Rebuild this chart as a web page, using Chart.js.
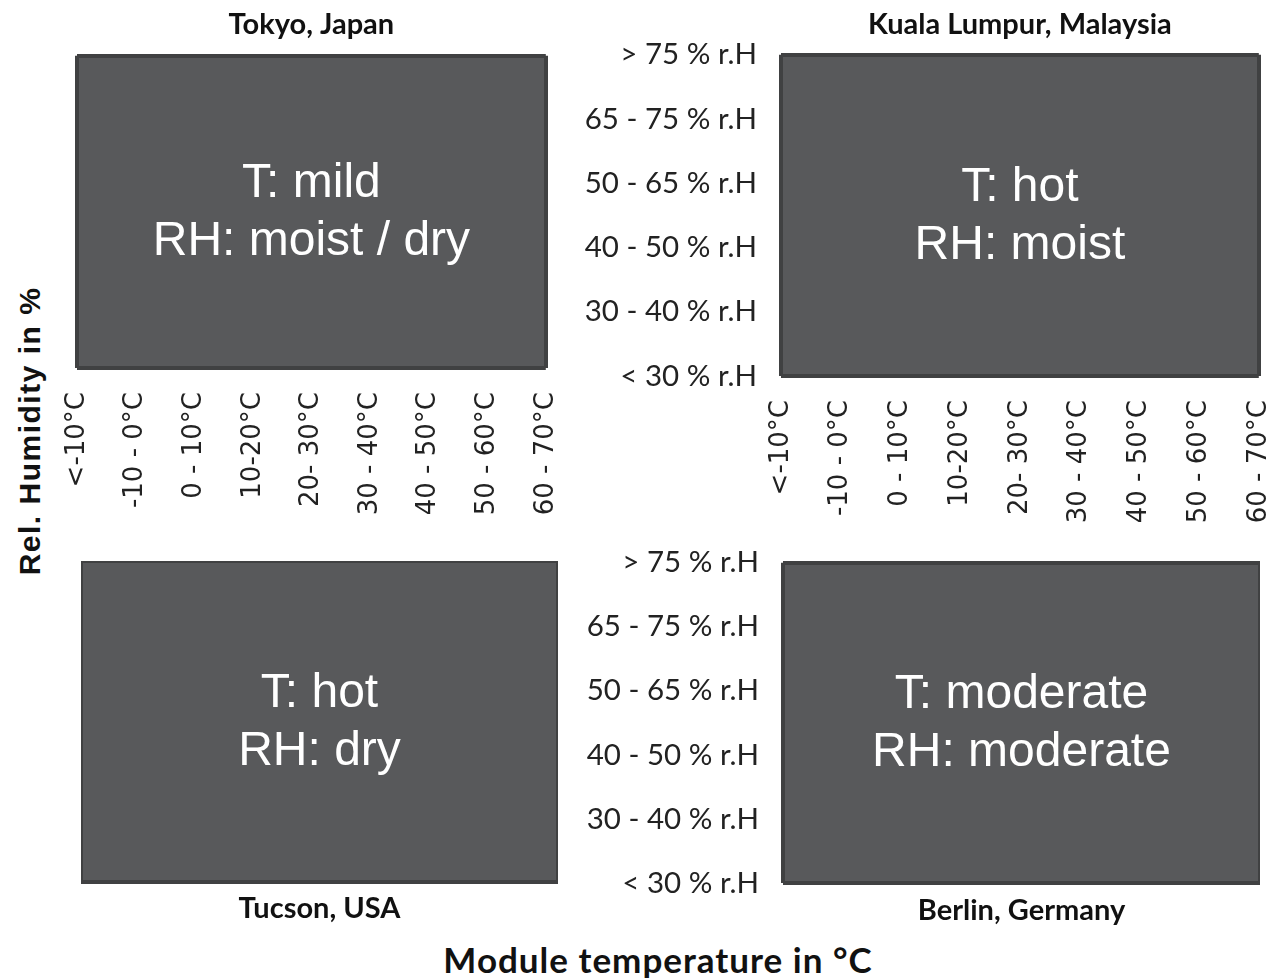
<!DOCTYPE html>
<html>
<head>
<meta charset="utf-8">
<script src="https://cdn.jsdelivr.net/npm/chart.js@4.4.1/dist/chart.umd.min.js"></script>
<style>
body { margin: 0; background: #fff; }
#wrap { position: relative; width: 1272px; height: 978px; overflow: hidden; background: #fff; }
canvas { position: absolute; }
.axis { position: absolute; color: #111; white-space: nowrap; }
#ylab { left: 30px; top: 431px; font: bold 30px "Liberation Sans", Arial, sans-serif; letter-spacing: 1.5px; transform: translate(-50%, -50%) rotate(-90deg); }
#xlab { left: 658px; top: 959px; font: bold 35px Lato, sans-serif; letter-spacing: 1px; transform: translate(-50%, -50%); }
</style>
</head>
<body>
<div id="wrap">
  <canvas id="tokyo"></canvas>
  <canvas id="kl"></canvas>
  <canvas id="tucson"></canvas>
  <canvas id="berlin"></canvas>
  <div class="axis" id="ylab">Rel. Humidity in %</div>
  <div class="axis" id="xlab">Module temperature in °C</div>
</div>
<script>
// temperature classes (x) and humidity classes (y, bottom to top)
const tempBins = ['<-10°C', '-10 - 0°C', '0 - 10°C', '10-20°C', '20- 30°C', '30 - 40°C', '40 - 50°C', '50 - 60°C', '60 - 70°C'];
const rhBins = ['< 30 % r.H', '30 - 40 % r.H', '40 - 50 % r.H', '50 - 65 % r.H', '65 - 75 % r.H', '> 75 % r.H'];

const sites = ['Tokyo, Japan', 'Kuala Lumpur, Malaysia', 'Tucson, USA', 'Berlin, Germany'];
const tempClass = ['mild', 'hot', 'hot', 'moderate'];
const rhClass = ['moist / dry', 'moist', 'dry', 'moderate'];

// covered humidity level per temperature bin (the whole map is greyed out)
const tokyoCover  = [5, 5, 5, 5, 5, 5, 5, 5, 5];
const klCover     = [5, 5, 5, 5, 5, 5, 5, 5, 5];
const tucsonCover = [5, 5, 5, 5, 5, 5, 5, 5, 5];
const berlinCover = [5, 5, 5, 5, 5, 5, 5, 5, 5];

const fillCol = '#58595b';
const edgeCol = '#404142';

// white text in the middle of each map
const climateText = {
  id: 'climateText',
  afterDatasetsDraw(chart, args, opts) {
    const a = chart.chartArea;
    const ctx = chart.ctx;
    const cx = (a.left + a.right) / 2, cy = (a.top + a.bottom) / 2;
    ctx.save();
    ctx.fillStyle = '#ffffff';
    ctx.font = '48px "Liberation Sans", Arial, sans-serif';
    ctx.textAlign = 'center';
    ctx.textBaseline = 'middle';
    ctx.fillText('T: ' + tempClass[opts.k], cx, cy - 28);
    ctx.fillText('RH: ' + rhClass[opts.k], cx, cy + 30);
    ctx.restore();
  }
};

function makeConfig(cover, k, cfg) {
  return {
    type: 'line',
    data: {
      labels: tempBins,
      datasets: [{
        data: cover,
        fill: 'start',
        backgroundColor: fillCol,
        borderColor: fillCol,
        borderWidth: 1,
        pointRadius: 0,
        tension: 0
      }]
    },
    options: {
      responsive: false,
      maintainAspectRatio: false,
      animation: false,
      layout: { padding: 0 },
      plugins: {
        legend: { display: false },
        tooltip: { enabled: false },
        title: {
          display: true,
          text: sites[k],
          position: cfg.titlePos,
          fullSize: false,
          color: '#111',
          font: { family: 'Lato', size: 29, weight: 'bold' },
          padding: cfg.titlePad
        },
        climateText: { k: k }
      },
      scales: {
        x: {
          offset: false,
          border: { display: false },
          grid: {
            z: 1,
            lineWidth: 4,
            drawTicks: false,
            color: c => (c.index === 0 || c.index === tempBins.length - 1) ? edgeCol : 'rgba(0,0,0,0)'
          },
          ticks: {
            display: cfg.showX,
            autoSkip: false,
            minRotation: 90,
            maxRotation: 90,
            padding: 24,
            color: '#222',
            font: { family: 'DejaVu Sans', size: 26 }
          },
          afterFit: s => { if (cfg.showX) s.height = 160; }
        },
        y: {
          min: 0,
          max: rhBins.length - 1,
          border: { display: false },
          grid: {
            z: 1,
            lineWidth: 4,
            drawTicks: false,
            color: c => (c.tick.value === 0 || c.tick.value === rhBins.length - 1) ? edgeCol : 'rgba(0,0,0,0)'
          },
          ticks: {
            display: cfg.showY,
            stepSize: 1,
            padding: 24,
            color: '#222',
            font: { family: 'Lato', size: 29.5 },
            callback: v => rhBins[v]
          },
          afterFit: s => { if (cfg.showY) s.width = 210; }
        }
      }
    },
    plugins: [climateText]
  };
}

// build once to measure the margins round the plot area, then size the
// canvas so the plot area lands on the wanted box
function panel(id, cover, k, cfg, box) {
  const cv = document.getElementById(id);
  cv.width = 900; cv.height = 700;
  let ch = new Chart(cv, makeConfig(cover, k, cfg));
  const a = ch.chartArea;
  const offL = a.left, offT = a.top, offR = 900 - a.right, offB = 700 - a.bottom;
  ch.destroy();
  cv.width = Math.round(offL + (box.r - box.l) + offR);
  cv.height = Math.round(offT + (box.b - box.t) + offB);
  cv.style.left = Math.round(box.l - offL) + 'px';
  cv.style.top = Math.round(box.t - offT) + 'px';
  return new Chart(cv, makeConfig(cover, k, cfg));
}

panel('tokyo', tokyoCover, 0,
  { showX: true, showY: false, titlePos: 'top', titlePad: { top: 0, bottom: 14 } },
  { l: 77, t: 56, r: 546, b: 368 });
panel('kl', klCover, 1,
  { showX: true, showY: true, titlePos: 'top', titlePad: { top: 0, bottom: 13 } },
  { l: 781, t: 55, r: 1259, b: 376 });
panel('tucson', tucsonCover, 2,
  { showX: false, showY: false, titlePos: 'bottom', titlePad: { top: 9, bottom: 0 } },
  { l: 81, t: 561, r: 558, b: 882 });
panel('berlin', berlinCover, 3,
  { showX: false, showY: true, titlePos: 'bottom', titlePad: { top: 10, bottom: 0 } },
  { l: 783, t: 563, r: 1260, b: 884 });
</script>
</body>
</html>
